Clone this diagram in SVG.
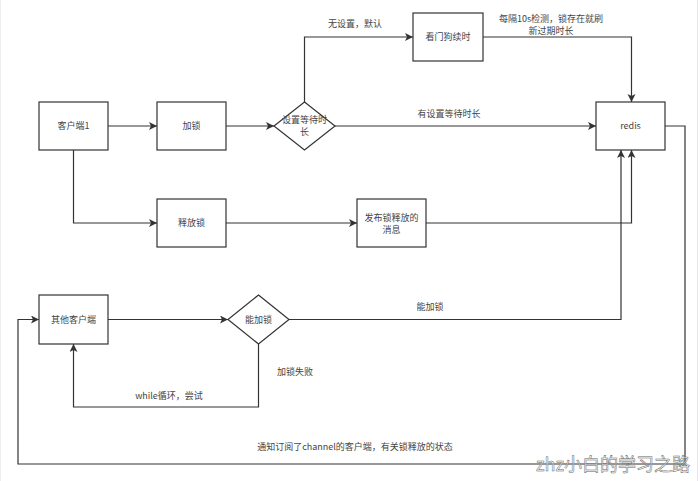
<svg xmlns="http://www.w3.org/2000/svg" width="700" height="481" viewBox="0 0 700 481">
<style>
.n{fill:#fff;stroke:#333;stroke-width:1.2}
.c{fill:none;stroke:#333;stroke-width:1.2}
text{font-family:"Noto Sans CJK SC","Liberation Sans",sans-serif;font-size:9px;fill:#444}
.m{text-anchor:middle}
.wm{font-size:18px;fill:#fff;fill-opacity:0.6;stroke:#666;stroke-width:0.5;text-anchor:end}
</style>
<defs>
<marker id="a" markerUnits="userSpaceOnUse" markerWidth="10" markerHeight="10" refX="8" refY="4" orient="auto">
<path d="M0,0 L8,4 L0,8 L2,4 Z" fill="#333"/>
</marker>
</defs>
<rect width="700" height="481" fill="#fff"/>
<line x1="0.5" y1="0" x2="0.5" y2="481" stroke="#eee"/>
<line x1="697.5" y1="0" x2="697.5" y2="481" stroke="#e6e6e6"/>
<g id="connectors">
<path class="c" d="M108,126 H157" marker-end="url(#a)"/>
<path class="c" d="M226,126 H274" marker-end="url(#a)"/>
<path class="c" d="M304.5,102 V37 H413" marker-end="url(#a)"/>
<path class="c" d="M335,126 H596" marker-end="url(#a)"/>
<path class="c" d="M483,37 H631.5 V102" marker-end="url(#a)"/>
<path class="c" d="M73.5,150 V223 H157" marker-end="url(#a)"/>
<path class="c" d="M226,223 H357" marker-end="url(#a)"/>
<path class="c" d="M426,223 H631.5 V150" marker-end="url(#a)"/>
<path class="c" d="M289,319.5 H621 V150" marker-end="url(#a)"/>
<path class="c" d="M665,126 H685 V464 H18 V319.5 H39" marker-end="url(#a)"/>
<path class="c" d="M108,319.5 H228" marker-end="url(#a)"/>
<path class="c" d="M258.5,344 V407 H73.5 V344" marker-end="url(#a)"/>
<text class="m" x="355" y="27">无设置，默认</text>
<text class="m" x="449" y="117">有设置等待时长</text>
<text class="m" x="551" y="22">每隔10s检测，锁存在就刷</text>
<text class="m" x="551" y="34">新过期时长</text>
<text class="m" x="430" y="310">能加锁</text>
<text class="m" x="295" y="375">加锁失败</text>
<text class="m" x="169" y="399">while循环，尝试</text>
<text class="m" x="355" y="450">通知订阅了channel的客户端，有关锁释放的状态</text>
</g>
<g id="client1"><rect class="n" x="39" y="102" width="69" height="48"/><text class="m" x="73.5" y="129">客户端1</text></g>
<g id="lock"><rect class="n" x="157" y="102" width="69" height="48"/><text class="m" x="191.5" y="129">加锁</text></g>
<g id="waitDecision"><path class="n" d="M304.5,102 L335,126 L304.5,150 L274,126 Z"/><text class="m" x="304.5" y="123">设置等待时</text><text class="m" x="304.5" y="135">长</text></g>
<g id="release"><rect class="n" x="157" y="199" width="69" height="48"/><text class="m" x="191.5" y="226">释放锁</text></g>
<g id="watchdog"><rect class="n" x="413" y="13" width="70" height="48"/><text class="m" x="448" y="40">看门狗续时</text></g>
<g id="redis"><rect class="n" x="596" y="102" width="69" height="48"/><text class="m" x="630.5" y="129">redis</text></g>
<g id="publish"><rect class="n" x="357" y="199" width="69" height="48"/><text class="m" x="391.5" y="221">发布锁释放的</text><text class="m" x="391.5" y="233">消息</text></g>
<g id="otherClients"><rect class="n" x="39" y="295" width="69" height="49"/><text class="m" x="73.5" y="322.5">其他客户端</text></g>
<g id="canLock"><path class="n" d="M258.5,295 L289,319.5 L258.5,344 L228,319.5 Z"/><text class="m" x="258.5" y="322.5">能加锁</text></g>
<text class="wm" x="690" y="471">zhz小白的学习之路</text>
</svg>
